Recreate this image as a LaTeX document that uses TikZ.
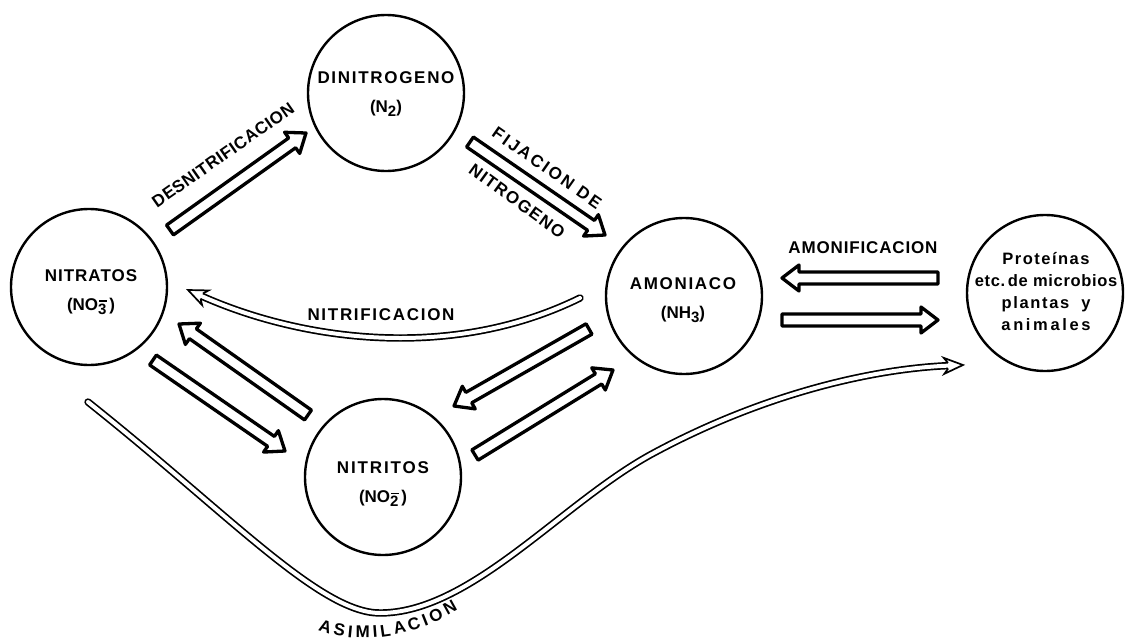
\documentclass[tikz,border=0pt]{standalone}
\usepackage{fontspec}
\setmainfont{Liberation Sans}
\newfontfamily\lbl{Liberation Sans Bold}
\newcommand\lsp[1]{\addfontfeature{LetterSpace=#1}}
\usetikzlibrary{calc,decorations.text}

% lowered index with a bar above it (ion charge), and a plain lowered index
\newcommand\ionsub[1]{\raisebox{-0.45ex}{\fontsize{15}{15}\selectfont\rlap{\raisebox{1.55ex}{\kern0.08em\rule{0.5em}{1.6pt}}}#1}}
\newcommand\lowsub[1]{\raisebox{-0.45ex}{\fontsize{15}{15}\selectfont #1}}

% hollow block arrow from coordinate #1 (tail) to coordinate #2 (tip)
\newcommand\blockarrow[2]{%
  \coordinate (#1-n) at ($(#2)!17pt!(#1)$);
  \draw[hollow] ($(#1)!6pt!90:(#2)$) -- ($(#1-n)!6pt!90:(#2)$)
    -- ($(#1-n)!13pt!90:(#2)$) -- (#2) -- ($(#1-n)!13pt!-90:(#2)$)
    -- ($(#1-n)!6pt!-90:(#2)$) -- ($(#1)!6pt!-90:(#2)$) -- cycle;}

% swept-back open head at the end of a thin double flow;
% #1 is the tip, #1-base where the flow ends, #1-barb the line of the barbs
\newcommand\thinhead[1]{%
  \fill[white] (#1) -- ($(#1-barb)!8pt!90:(#1)$) -- ($(#1-base)!2.8pt!90:(#1)$)
    -- ($(#1-base)!2.8pt!-90:(#1)$) -- ($(#1-barb)!8pt!-90:(#1)$) -- cycle;
  \draw[thinedge] ($(#1-base)!2.8pt!90:(#1)$) -- ($(#1-barb)!8pt!90:(#1)$) -- (#1)
    -- ($(#1-barb)!8pt!-90:(#1)$) -- ($(#1-base)!2.8pt!-90:(#1)$);}

\begin{document}
\begin{tikzpicture}[x=1pt,y=-1pt,
  pool/.style={circle, draw, line width=2.4pt, minimum size=156pt, inner sep=0pt},
  pooltext/.style={align=center, inner sep=0pt, font=\lbl\fontsize{17}{29}\selectfont},
  hollow/.style={draw, line width=3.3pt, fill=white, line join=round},
  thinflow/.style={draw, double, line width=1.7pt, double distance=4pt, line cap=round},
  thinedge/.style={draw, line width=1.7pt, line join=miter},
  flowtext/.style={font=\lbl\fontsize{17}{20}\selectfont, inner sep=0pt}]
\useasboundingbox (0,0) rectangle (1127,640);

% pools of nitrogen
\node[pool] (n2)  at (386,93)   {};
\node[pool] (no3) at (89,287)   {};
\node[pool] (nh3) at (684,296)  {};
\node[pool] (no2) at (383,477)  {};
\node[pool] (bio) at (1045,293) {};

\node[pooltext] (n2-t)  at (386,94)  {\lsp{10}DINITROGENO\\(N\lowsub{2})};
\node[pooltext] (no3-t) at (91,292)  {\lsp{6}NITRATOS\\(NO\ionsub{3}\,)};
\node[pooltext] (nh3-t) at (683,300) {\lsp{10}AMONIACO\\(NH\lowsub{3})};
\node[pooltext] (no2-t) at (383,484) {\lsp{11}NITRITOS\\(NO\ionsub{2}\,)};
\node[pooltext, font=\lbl\fontsize{16.5}{22}\selectfont] (bio-t) at (1046,292)
  {{\lsp{9}Proteínas}\\{\lsp{4}etc.\,de microbios}\\{\lsp{10}plantas\hspace{12pt}y}\\{\lsp{16}animales}};

% ends of the block arrows
\coordinate (den-t) at (170,230); \coordinate (den-h) at (306,133);
\coordinate (fix-t) at (470,142); \coordinate (fix-h) at (605,235);
\coordinate (a32-t) at (153,360); \coordinate (a32-h) at (285,451);
\coordinate (a23-t) at (308,415); \coordinate (a23-h) at (179,324);
\coordinate (ha2-t) at (589,329); \coordinate (ha2-h) at (454,406);
\coordinate (a2h-t) at (475,455); \coordinate (a2h-h) at (613,370);
\coordinate (amo-t) at (938,278); \coordinate (amo-h) at (782,278);
\coordinate (amr-t) at (782,320); \coordinate (amr-h) at (938,320);

\blockarrow{den-t}{den-h}
\blockarrow{fix-t}{fix-h}
\blockarrow{a32-t}{a32-h}
\blockarrow{a23-t}{a23-h}
\blockarrow{ha2-t}{ha2-h}
\blockarrow{a2h-t}{a2h-h}
\blockarrow{amo-t}{amo-h}
\blockarrow{amr-t}{amr-h}

% nitrification: ammonia back to nitrate
\coordinate (nitr-t) at (580,298);
\coordinate (nitr) at (188,290);
\coordinate (nitr-c) at (300,340);
\coordinate (nitr-base) at ($(nitr)!15pt!(nitr-c)$);
\coordinate (nitr-barb) at ($(nitr)!19pt!(nitr-c)$);
\draw[thinflow] (nitr-t) .. controls (450,362) and (nitr-c) .. (nitr-base);
\thinhead{nitr}

% assimilation: nitrate into living matter
\coordinate (asim-t) at (88,402);
\coordinate (asim) at (963,365);
\coordinate (asim-c) at (870,369);
\coordinate (asim-base) at ($(asim)!15pt!(asim-c)$);
\coordinate (asim-barb) at ($(asim)!19pt!(asim-c)$);
\draw[thinflow] (asim-t) .. controls (230,515) and (320,613) .. (380,613)
  .. controls (470,613) and (560,505) .. (650,455)
  .. controls (760,395) and (asim-c) .. (asim-base);
\thinhead{asim}

% process names
\node[flowtext, rotate=35]  (l-den)  at (223,155) {\lsp{3}DESNITRIFICACION};
\node[flowtext, rotate=-35] (l-fix1) at (547,168) {\lsp{14}FIJACION DE};
\node[flowtext, rotate=-36] (l-fix2) at (517,201) {\lsp{8}NITROGENO};
\node[flowtext] (l-nit) at (381,315) {\lsp{10}NITRIFICACION};
\node[flowtext] (l-amo) at (863,248) {\lsp{5}AMONIFICACION};
\path[decorate, decoration={text along path,
    text={|\lbl\fontsize{17}{17}\selectfont|ASIMILACION}, text align={fit to path}}]
  (318,630) .. controls (350,642) and (400,644) .. (458,610);
\end{tikzpicture}
\end{document}
